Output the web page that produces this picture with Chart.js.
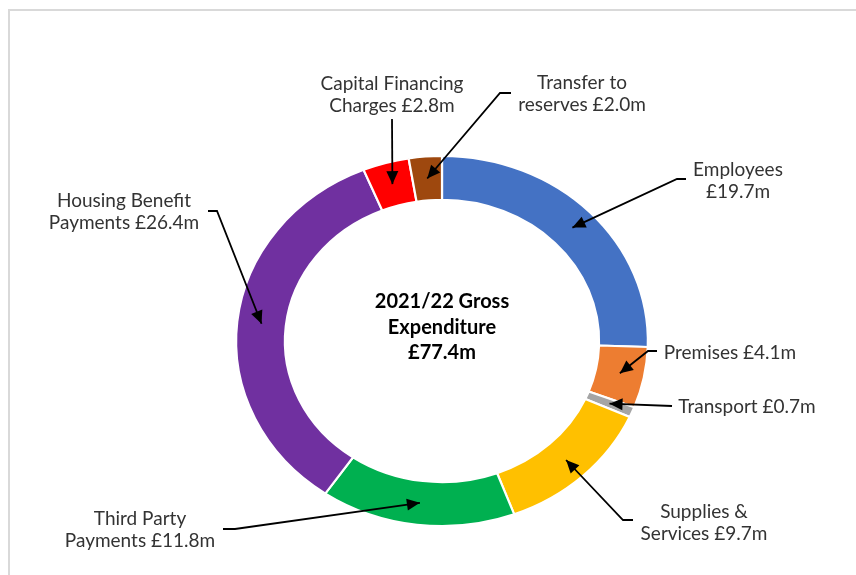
<!DOCTYPE html>
<html><head><meta charset="utf-8">
<script src="https://cdn.jsdelivr.net/npm/chart.js@4"></script>
<style>
html,body{margin:0;padding:0;background:#fff;}
#wrap{position:relative;width:856px;height:575px;overflow:hidden;}
#frame{position:absolute;left:8px;top:9px;width:870px;height:590px;border-top:2px solid #d9d9d9;border-left:2px solid #d9d9d9;box-sizing:border-box;}
canvas{position:absolute;left:0;top:0;}
</style></head><body>
<div id="wrap"><div id="frame"></div><canvas id="c" width="856" height="575"></canvas></div>
<script>
// ---- data ----
const categories = ['Employees','Premises','Transport','Supplies & Services','Third Party Payments','Housing Benefit Payments','Capital Financing Charges','Transfer to reserves'];
const values = [19.7, 4.1, 0.7, 9.7, 11.8, 26.4, 2.8, 2.0];
const colors = ['#4472C4','#ED7D31','#A5A5A5','#FFC000','#00B050','#7030A0','#FF0000','#9E480E'];
const centerTitle = ['2021/22 Gross','Expenditure','£77.4m'];
const wrapAfterWords = [1, null, null, 2, 2, 2, 2, 2];

// ---- layout (label text anchor and leader-line start/elbow) ----
const labelLayout = [
  {x:738, y:170, start:[686,179], elbow:[677,179]},
  {x:730, y:353, start:[657,351], elbow:[648,351]},
  {x:747, y:407, start:[672,406], elbow:null},
  {x:704, y:512, start:[633,520], elbow:[623,520]},
  {x:140, y:519, start:[223,529], elbow:[235,529]},
  {x:124, y:201, start:[208,211], elbow:[217,211]},
  {x:392, y:84,  start:[392,119], elbow:null},
  {x:582, y:83,  start:[511,93],  elbow:[500,93]}
];
const X_STRETCH = 207/186;
const LABEL_FONT = '19px Lato';
const LINE_H = 22;

function labelLines(i){
  const words = (categories[i] + ' £' + values[i].toFixed(1) + 'm').split(' ');
  const n = wrapAfterWords[i];
  if (n == null) return [words.join(' ')];
  return [words.slice(0,n).join(' '), words.slice(n).join(' ')];
}

const ellipsePlugin = {
  id:'ellipse',
  beforeDatasetsDraw(chart){
    const a = chart.getDatasetMeta(0).data[0];
    const ctx = chart.ctx;
    ctx.save();
    ctx.translate(a.x, a.y);
    ctx.scale(X_STRETCH, 1);
    ctx.translate(-a.x, -a.y);
  },
  afterDatasetsDraw(chart){
    chart.ctx.restore();
  }
};

function arrow(ctx, pts){
  ctx.beginPath();
  ctx.moveTo(pts[0][0], pts[0][1]);
  for (let k=1;k<pts.length;k++) ctx.lineTo(pts[k][0], pts[k][1]);
  ctx.stroke();
  const p = pts[pts.length-2], q = pts[pts.length-1];
  const ang = Math.atan2(q[1]-p[1], q[0]-p[0]);
  const L = 13, W = 6;
  ctx.beginPath();
  ctx.moveTo(q[0], q[1]);
  ctx.lineTo(q[0]-L*Math.cos(ang)+W*Math.sin(ang), q[1]-L*Math.sin(ang)-W*Math.cos(ang));
  ctx.lineTo(q[0]-L*Math.cos(ang)-W*Math.sin(ang), q[1]-L*Math.sin(ang)+W*Math.cos(ang));
  ctx.closePath();
  ctx.fill();
}

const labelPlugin = {
  id:'labels',
  afterDraw(chart){
    const ctx = chart.ctx;
    const meta = chart.getDatasetMeta(0);
    const cx = meta.data[0].x, cy = meta.data[0].y;
    ctx.save();
    // center title
    ctx.fillStyle = '#000';
    ctx.font = 'bold 20px Lato';
    ctx.textAlign = 'center';
    ctx.textBaseline = 'middle';
    centerTitle.forEach((t, k) => ctx.fillText(t, cx, 302 + k*25.5));
    // labels
    ctx.font = LABEL_FONT;
    meta.data.forEach((arc, i) => {
      const L = labelLayout[i];
      ctx.fillStyle = '#333333';
      labelLines(i).forEach((t, k) => ctx.fillText(t, L.x, L.y + k*LINE_H));
      const c = arc.getCenterPoint();
      const tip = [cx + (c.x - cx)*X_STRETCH, c.y];
      const pts = [L.start];
      if (L.elbow) pts.push(L.elbow);
      pts.push(tip);
      ctx.strokeStyle = '#000';
      ctx.fillStyle = '#000';
      ctx.lineWidth = 1.8;
      arrow(ctx, pts);
    });
    ctx.restore();
  }
};

new Chart(document.getElementById('c'), {
  type:'doughnut',
  data:{
    labels: categories,
    datasets:[{
      data: values,
      backgroundColor: colors,
      borderColor:'#ffffff',
      borderWidth:2
    }]
  },
  options:{
    responsive:false,
    animation:false,
    cutout:'76.3%',
    layout:{padding:{top:154, bottom:47, left:256, right:228}},
    plugins:{legend:{display:false}, tooltip:{enabled:false}}
  },
  plugins:[ellipsePlugin, labelPlugin]
});
</script>
</body></html>
